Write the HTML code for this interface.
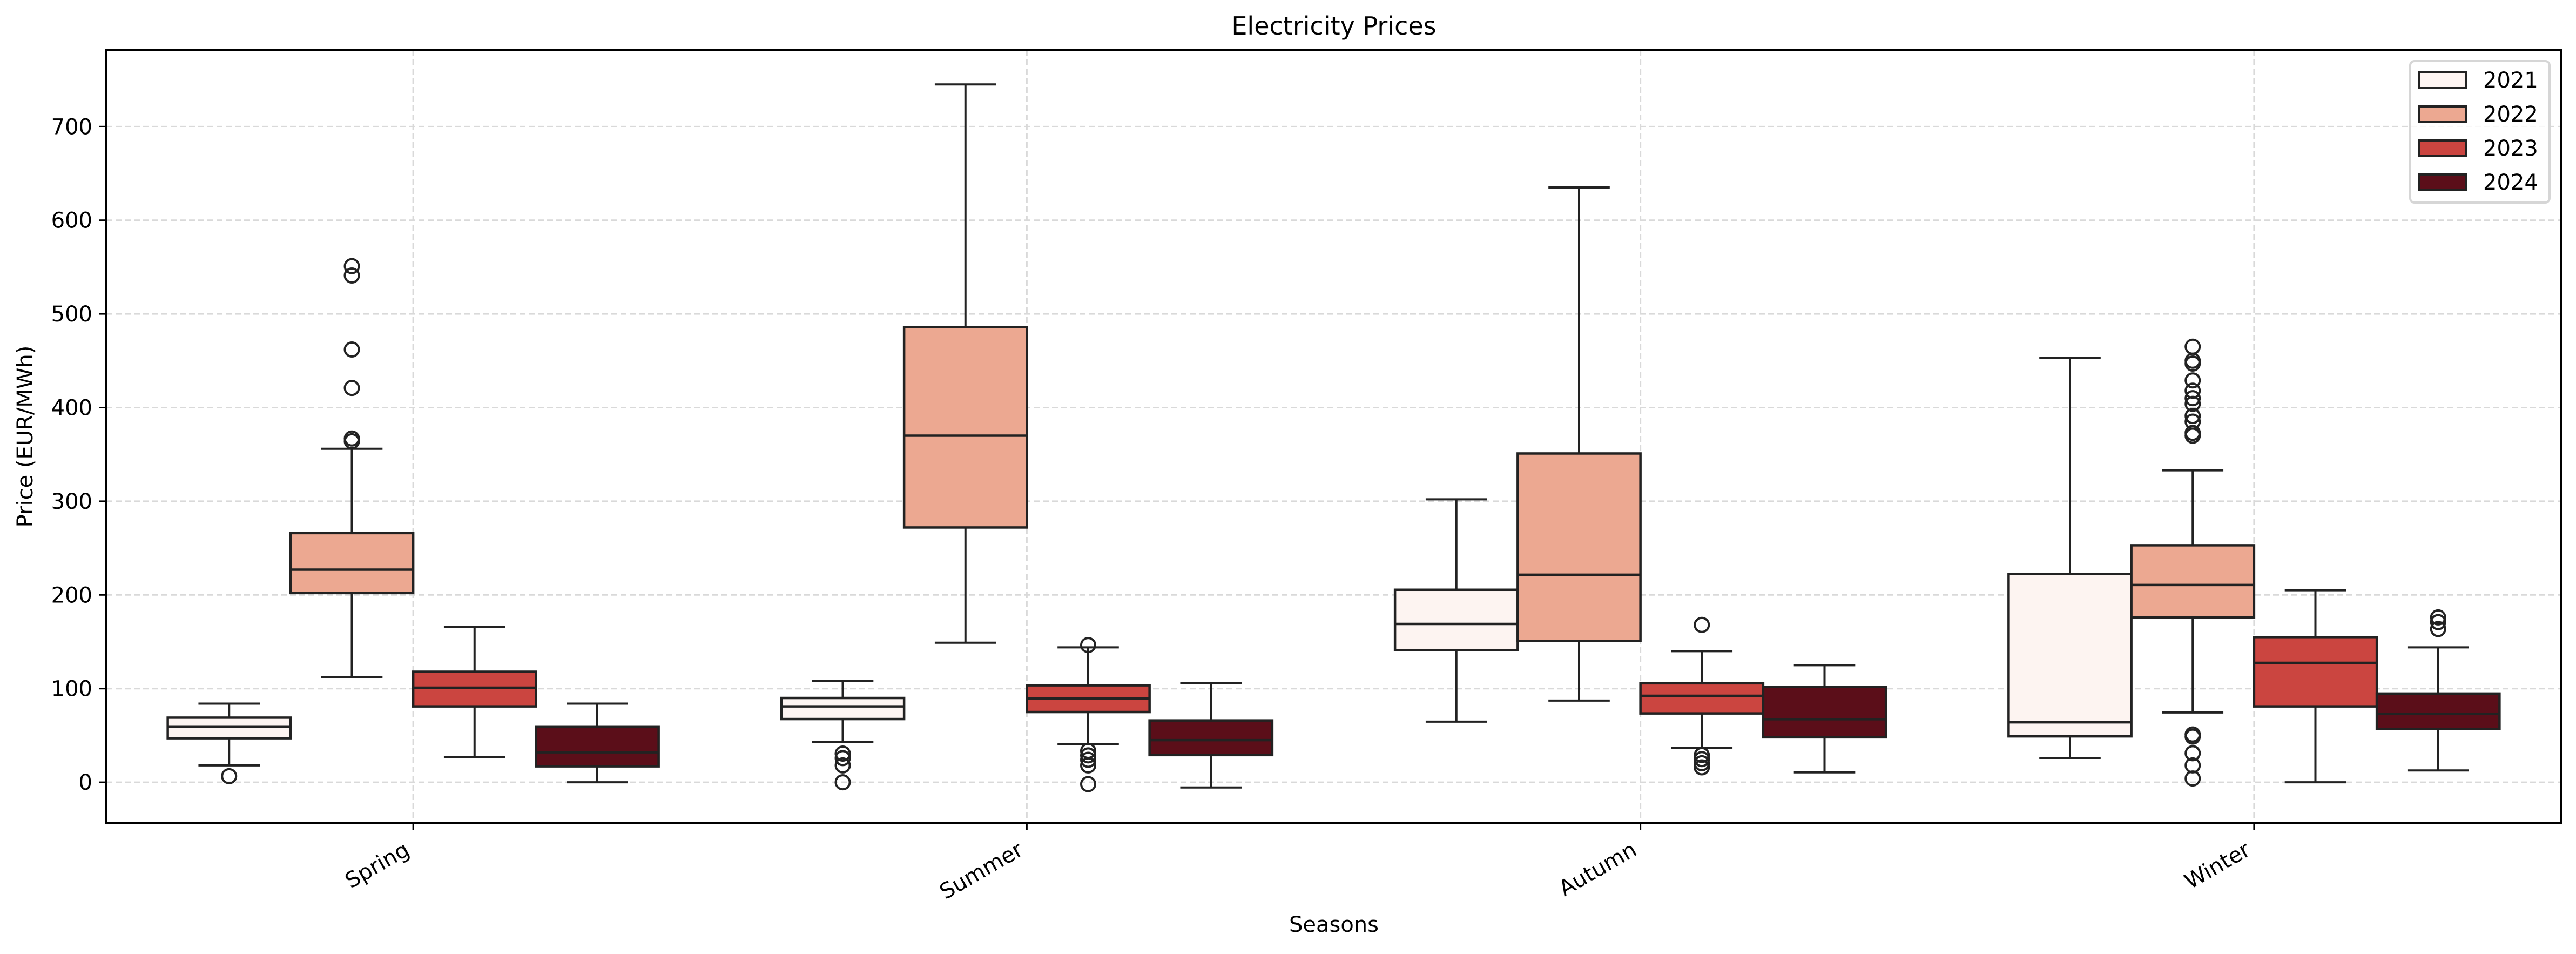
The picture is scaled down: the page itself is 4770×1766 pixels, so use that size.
<!DOCTYPE html>
<html><head><meta charset="utf-8"><style>
html,body{margin:0;padding:0;background:#fff;}
svg{display:block;font-family:"DejaVu Sans","Liberation Sans",sans-serif;}
</style></head><body>
<svg id="chart" width="4770" height="1766" viewBox="0 0 4770 1766" xmlns="http://www.w3.org/2000/svg">
<rect x="0" y="0" width="4770" height="1766" fill="#fff"/>
<g id="grid"></g>
<g id="boxes"></g>
<rect x="197" y="93" width="4545" height="1430" fill="none" stroke="#000" stroke-width="4"/>
<g id="axes"></g>
<text x="2470" y="64" font-size="46" text-anchor="middle">Electricity Prices</text>
<text x="2470" y="1725" font-size="40" text-anchor="middle">Seasons</text>
<text x="60" y="808" font-size="40" text-anchor="middle" transform="rotate(-90 60 808)">Price (EUR/MWh)</text>
<g id="legend">
<rect x="4463" y="113" width="258" height="262" rx="8" fill="#fff" fill-opacity="0.8" stroke="#d6d6d6" stroke-width="4"/>
</g>
</svg>
<script>
const seasons = ["Spring","Summer","Autumn","Winter"];
const years = ["2021","2022","2023","2024"];
const colors = ["#fdf4f1","#eca891","#cb4540","#5b0e19"];
const yTicks = [0,100,200,300,400,500,600,700];
// [lowWhisker, q1, median, q3, highWhisker] per season per year
const spring = [[18,47,59,69,84],[112,202,227,266,356],[27,81,101,118,166],[0,17,32,59,84]];
const summer = [[43,67.5,81,90,108],[149,272,370,486,745],[40.6,75,89.4,103.5,144],[-5.6,29,45,66,106]];
const autumn = [[64.7,141,169,205.5,302],[87.2,151,221.6,351,635],[36.4,73.5,92.3,105.7,140],[10.6,48,67.3,101.8,125]];
const winter = [[26,49,64,222.5,453],[74.5,176,210.6,253,333],[0,81,127.5,155,205],[12.6,57,73,94.7,144]];
const springOut = [[6.5],[551,541,462,421,367,364],[],[]];
const summerOut = [[30.6,25.8,18,0],[],[146.5,33.5,28.7,24,18,-2],[]];
const autumnOut = [[],[],[168,29,24.7,20.3,15.9],[]];
const winterOut = [[],[465,450,447,429,418,410,404,391,385,373,370,51,48.7,31,18,4],[],[176,171,163.6]];
const stats = [spring,summer,autumn,winter];
const outliers = [springOut,summerOut,autumnOut,winterOut];

const NS="http://www.w3.org/2000/svg";
const L=197,R=4742,T=93,B=1523,yMin=-43.2,yMax=781.5;
const y=v=>B-(v-yMin)/(yMax-yMin)*(B-T);
const band=(R-L)/seasons.length;
const xc=i=>L+band*(i+0.5);
const bw=band*0.8/years.length;
const xb=(i,j)=>xc(i)+(j-(years.length-1)/2)*bw;
function mk(tag,attrs,parent){const e=document.createElementNS(NS,tag);for(const k in attrs)e.setAttribute(k,attrs[k]);parent.appendChild(e);return e;}
const grid=document.getElementById('grid'),boxes=document.getElementById('boxes'),axes=document.getElementById('axes'),legend=document.getElementById('legend');

yTicks.forEach(t=>{
  const g=mk('line',{x1:L,x2:R,y1:y(t),y2:y(t),stroke:"#d9d9d9","stroke-width":3,"stroke-dasharray":"11 6"},grid);
  
  
  const tk=mk('line',{x1:L-14,x2:L,y1:y(t),y2:y(t),stroke:"#000","stroke-width":3},axes);
  
  
  const tx=mk('text',{x:L-26,y:y(t)+14,"font-size":40,"text-anchor":"end"},axes);
  tx.textContent=t;
  
  
});
seasons.forEach((s,i)=>{
  const g=mk('line',{x1:xc(i),x2:xc(i),y1:T,y2:B,stroke:"#d9d9d9","stroke-width":3,"stroke-dasharray":"11 6"},grid);
  
  
  const tk=mk('line',{x1:xc(i),x2:xc(i),y1:B,y2:B+14,stroke:"#000","stroke-width":3},axes);
  
  
  const tx=mk('text',{x:xc(i)-4,y:B+58,"font-size":40,"text-anchor":"end",transform:`rotate(-30 ${xc(i)-4} ${B+58})`},axes);
  tx.textContent=s;
  
  
});
const ink="#222";
stats.forEach((ss,i)=>ss.forEach((d,j)=>{
  const cx=xb(i,j),x0=cx-bw/2;
  const g=mk('g',{},boxes);
  
  
  mk('line',{x1:cx,x2:cx,y1:y(d[0]),y2:y(d[1]),stroke:ink,"stroke-width":4},g);
  mk('line',{x1:cx,x2:cx,y1:y(d[3]),y2:y(d[4]),stroke:ink,"stroke-width":4},g);
  mk('line',{x1:cx-bw/4,x2:cx+bw/4,y1:y(d[0]),y2:y(d[0]),stroke:ink,"stroke-width":4},g);
  mk('line',{x1:cx-bw/4,x2:cx+bw/4,y1:y(d[4]),y2:y(d[4]),stroke:ink,"stroke-width":4},g);
  mk('rect',{x:x0,y:y(d[3]),width:bw,height:y(d[1])-y(d[3]),fill:colors[j],stroke:ink,"stroke-width":4.5},g);
  mk('line',{x1:x0,x2:x0+bw,y1:y(d[2]),y2:y(d[2]),stroke:ink,"stroke-width":4.5},g);
  outliers[i][j].forEach(v=>{
    const c=mk('circle',{cx:cx,cy:y(v),r:13,fill:"none",stroke:ink,"stroke-width":4},g);
    
    
  });
}));
years.forEach((yr,j)=>{
  const yy=148+j*63;
  const r=mk('rect',{x:4480,y:yy-14,width:86,height:29,fill:colors[j],stroke:ink,"stroke-width":4},legend);
  
  
  const t=mk('text',{x:4598,y:yy+14,"font-size":40},legend);
  t.textContent=yr;
  
  
});
</script>
</body></html>
